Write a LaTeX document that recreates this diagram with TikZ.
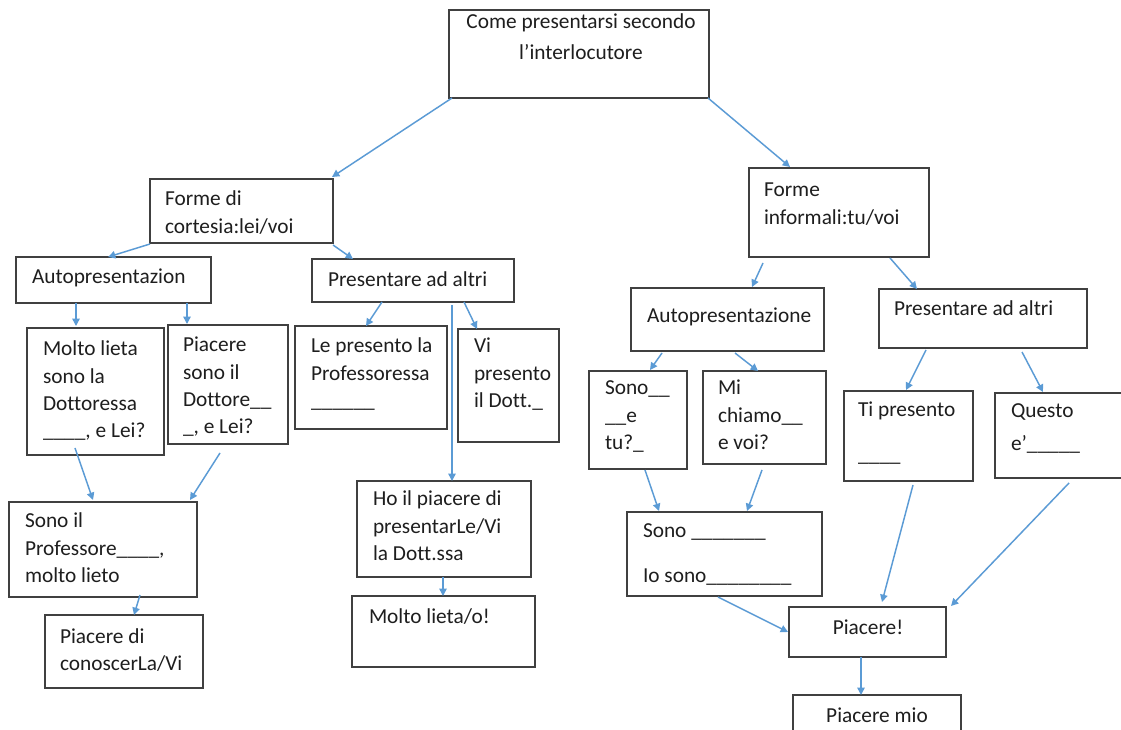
\documentclass[tikz,border=0pt]{standalone}
\usepackage{fontspec}
\setmainfont{Carlito}[Ligatures=NoCommon]
\usetikzlibrary{arrows.meta,calc}

\definecolor{boxline}{RGB}{64,64,64}
\definecolor{arrowblue}{RGB}{91,155,213}
\definecolor{ink}{RGB}{30,30,30}

\tikzset{
  tbox/.style={draw=boxline, line width=1pt, rectangle, inner sep=0pt, outer sep=0pt},
  ttext/.style={inner sep=0pt, outer sep=0pt, align=left, text=ink,
                font=\fontsize{16pt}{20.5pt}\selectfont},
  conn/.style={draw=arrowblue, line width=1.1pt,
               -{Triangle[length=5.5pt,width=5.5pt]}}
}

% box from (x1,y1) to (x2,y2), in pixel units
\newcommand\mkbox[5]{%
  \node[tbox, anchor=north west,
        minimum width={(#4-#2)*0.75pt},
        minimum height={(#5-#3)*0.75pt}] (#1) at (#2,#3) {};}
% left-aligned text, first baseline at (x,y)
\newcommand\mktext[4]{%
  \node[ttext, anchor=north west] (#1) at (#2,#3-16) {\rule{0pt}{12pt}#4};}
% centred text, first baseline at (x,y)
\newcommand\mkctext[4]{%
  \node[ttext, align=center, anchor=north] (#1) at (#2,#3-16) {\rule{0pt}{12pt}#4};}

\begin{document}
\begin{tikzpicture}[x=0.75pt,y=-0.75pt]
\path[use as bounding box, fill=white] (0,0) rectangle (1121,730);
\clip (0,0) rectangle (1121,730);

% ---------- boxes ----------
\mkbox{top}{449}{10}{709}{98}
\mkbox{cort}{150}{179}{333}{243}
\mkbox{autoL}{16}{257}{211}{303}
\mkbox{presL}{312}{259}{514}{302}
\mkbox{molto}{27}{328}{164}{455}
\mkbox{piac}{168}{325}{288}{444}
\mkbox{lepres}{295}{326}{447}{429}
\mkbox{vipres}{458}{329}{559}{442}
\mkbox{sonoprof}{9}{502}{197}{597}
\mkbox{conosc}{45}{615}{203}{688}
\mkbox{hopiac}{357}{481}{531}{577}
\mkbox{moltoo}{352}{596}{535}{667}
\mkbox{inf}{749}{168}{929}{257}
\mkbox{autoR}{631}{288}{824}{351}
\mkbox{presR}{879}{289}{1087}{348}
\mkbox{sono}{589}{371}{687}{469}
\mkbox{chiamo}{703}{371}{826}{464}
\mkbox{tipres}{844}{391}{973}{481}
\mkbox{questo}{995}{393}{1126}{478}
\mkbox{sonoblank}{627}{512}{822}{596}
\mkbox{piacere}{789}{607}{946}{657}
\mkbox{mio}{793}{695}{961}{740}

% ---------- texts ----------
\mkctext{topt}{581}{29}{Come presentarsi secondo\\[2.25pt]l’interlocutore}
\mktext{cortt}{165}{206}{Forme di\\cortesia:lei/voi}
\mktext{autoLt}{32}{284}{Autopresentazion}
\mktext{presLt}{328}{287}{Presentare ad altri}
\mktext{moltot}{43}{356}{Molto lieta\\sono la\\Dottoressa\\\_\_\_\_, e Lei?}
\mktext{piact}{183}{352}{Piacere\\sono il\\Dottore\_\_\\\_, e Lei?}
\mktext{lepret}{311}{353}{Le presento la\\Professoressa\\\_\_\_\_\_\_}
\mktext{vipret}{474}{353}{Vi\\presento\\il Dott.\_}
\mktext{sonoproft}{25}{528}{Sono il\\Professore\_\_\_\_,\\molto lieto}
\mktext{conosct}{60}{643}{Piacere di\\conoscerLa/Vi}
\mktext{hopiact}{373}{506}{Ho il piacere di\\presentarLe/Vi\\la Dott.ssa}
\mktext{moltoot}{369}{623}{Molto lieta/o!}
\mktext{inft}{764}{197}{Forme\\informali:tu/voi}
\mktext{autoRt}{647}{323}{Autopresentazione}
\mktext{presRt}{894}{316}{Presentare ad altri}
\mktext{sonot}{605}{395}{Sono\_\_\\\_\_e\\tu?\_}
\mktext{chiamot}{718}{395}{Mi\\chiamo\_\_\\e voi?}
\mktext{tiprest}{858}{417}{Ti presento\\[12.75pt]\_\_\_\_}
\mktext{questot}{1011}{418}{Questo\\[3.75pt]e’\_\_\_\_\_}
\mktext{sonoblankt}{643}{538}{Sono \_\_\_\_\_\_\_\\[12.75pt]Io sono\_\_\_\_\_\_\_\_}
\mkctext{piaceret}{868}{634}{Piacere!}
\mkctext{miot}{877}{722}{Piacere mio}

% ---------- connectors ----------
\draw[conn] ($(top.south west)+(3,0)$) -- ($(cort.north east)+(-1,-2)$);
\draw[conn] ($(top.south east)+(-1,0)$) -- ($(inf.north west)+(41,-1)$);
\draw[conn] ($(cort.south west)+(0,1)$) -- ($(autoL.north west)+(92,0)$);
\draw[conn] ($(cort.south east)+(0,2)$) -- ($(presL.north west)+(41,0)$);
\draw[conn] ($(autoL.south west)+(60,0)$) -- ($(molto.north west)+(49,-2)$);
\draw[conn] ($(autoL.south west)+(171,0)$) -- ($(piac.north west)+(19,-1)$);
\draw[conn] ($(presL.south west)+(70,0)$) -- ($(lepres.north west)+(71,0)$);
\draw[conn] ($(presL.south west)+(152,0)$) -- ($(vipres.north west)+(19,0)$);
\draw[conn] ($(presL.south west)+(140,3)$) -- ($(hopiac.north west)+(95,0)$);
\draw[conn] ($(molto.south west)+(48,-7)$) -- ($(sonoprof.north west)+(84,-2)$);
\draw[conn] ($(piac.south west)+(52,9)$) -- ($(sonoprof.north east)+(-7,-2)$);
\draw[conn] ($(sonoprof.south west)+(131,-2)$) -- ($(conosc.north west)+(89,0)$);
\draw[conn] ($(hopiac.south west)+(86,0)$) -- ($(moltoo.north west)+(91,0)$);
\draw[conn] ($(inf.south west)+(14,6)$) -- ($(autoR.north west)+(121,-1)$);
\draw[conn] ($(inf.south west)+(141,1)$) -- ($(presR.north west)+(38,0)$);
\draw[conn] ($(autoR.south west)+(31,2)$) -- ($(sono.north west)+(61,-1)$);
\draw[conn] ($(autoR.south west)+(104,2)$) -- ($(chiamo.north west)+(55,0)$);
\draw[conn] ($(presR.south west)+(47,2)$) -- ($(tipres.north west)+(62,-1)$);
\draw[conn] ($(presR.south west)+(143,4)$) -- ($(questo.north west)+(48,-1)$);
\draw[conn] ($(sono.south west)+(56,1)$) -- ($(sonoblank.north west)+(32,-1)$);
\draw[conn] ($(chiamo.south west)+(59,6)$) -- ($(sonoblank.north west)+(120,-1)$);
\draw[conn] ($(tipres.south west)+(69,4)$) -- ($(piacere.north west)+(93,-5)$);
\draw[conn] ($(questo.south west)+(74,5)$) -- ($(piacere.north east)+(5,-1)$);
\draw[conn] ($(sonoblank.south west)+(91,1)$) -- ($(piacere.north west)+(-1,25)$);
\draw[conn] ($(piacere.south west)+(72,0)$) -- ($(mio.north west)+(68,0)$);
\end{tikzpicture}
\end{document}
